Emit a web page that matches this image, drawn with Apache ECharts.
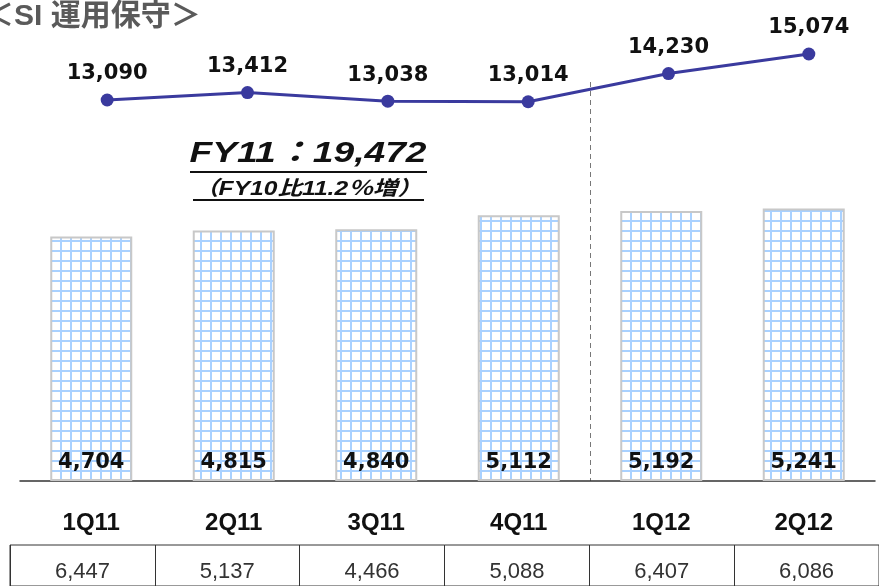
<!DOCTYPE html>
<html><head><meta charset="utf-8">
<script src="https://cdn.jsdelivr.net/npm/echarts@6/dist/echarts.min.js"></script>
<style>html,body{margin:0;padding:0;background:#fff}#c{width:879px;height:586px}</style>
</head><body><div id="c"></div>
<script>
const categories = ['1Q11','2Q11','3Q11','4Q11','1Q12','2Q12'];
const barValues = [4704,4815,4840,5112,5192,5241];
const lineValues = [13090,13412,13038,13014,14230,15074];
const tableValues = [6447,5137,4466,5088,6407,6086];
const titleText = '＜SI 運用保守＞';
const noteMain = 'FY11：19,472';
const noteSub = '（FY10比11.2％増）';

function fmt(v){return Number(v).toLocaleString('en-US');}
function tw(text, font){const c=document.createElement('canvas').getContext('2d');c.font=font;return c.measureText(text).width;}

const pat = document.createElement('canvas'); pat.width=10; pat.height=10;
const g = pat.getContext('2d'); g.fillStyle='#fff'; g.fillRect(0,0,10,10);
g.fillStyle='#a9d1ff'; g.fillRect(0,0,2,10); g.fillRect(0,0,10,2);

const NUM = "'DejaVu Sans', sans-serif";
const LAT = "'Liberation Sans', 'Noto Sans CJK JP', sans-serif";
const chart = echarts.init(document.getElementById('c'), null, {renderer:'canvas'});
const option = {
  animation:false,
  backgroundColor:'#fff',
  grid:[
    {left:20, width:855, top:13, height:468},
    {left:37, width:848, top:13, height:468},
    {left:10, width:876, top:545, height:60, show:true, borderColor:'#333', borderWidth:1}
  ],
  xAxis:[
    {type:'category', gridIndex:0, data:categories, axisLine:{lineStyle:{color:'#333',width:1.5}}, axisTick:{show:false},
     axisLabel:{margin:30, fontFamily:LAT, fontWeight:'bold', fontSize:24, color:'#111'}},
    {type:'category', gridIndex:1, data:categories, show:false},
    {type:'category', gridIndex:2, data:categories, position:'top', axisLine:{show:false}, axisTick:{show:false},
     splitLine:{show:true, lineStyle:{color:'#333',width:1}},
     axisLabel:{inside:true, margin:16, formatter:(v,i)=>fmt(tableValues[i]), fontFamily:LAT, fontSize:22, color:'#333'}}
  ],
  yAxis:[
    {type:'value', gridIndex:0, min:0, max:9000, show:false},
    {type:'value', gridIndex:1, min:-3330, max:16840, show:false},
    {type:'value', gridIndex:2, show:false}
  ],
  series:[
    {type:'bar', xAxisIndex:0, yAxisIndex:0, data:barValues, barWidth:82,
     itemStyle:{color:{image:pat, repeat:'repeat'}, borderColor:'#c8c8c8', borderWidth:2},
     label:{show:true, position:'insideBottom', distance:8, formatter:p=>fmt(p.value), fontFamily:NUM, fontWeight:'bold', fontSize:21, color:'#111'}},
    {type:'line', xAxisIndex:1, yAxisIndex:1, data:lineValues, symbol:'circle', symbolSize:13,
     lineStyle:{color:'#3a3a9e', width:3}, itemStyle:{color:'#3a3a9e'},
     label:{show:true, position:'top', distance:9, formatter:p=>fmt(p.value), fontFamily:NUM, fontWeight:'bold', fontSize:21, color:'#111'}}
  ]
};
chart.setOption(option);

const x4 = chart.convertToPixel({xAxisIndex:0}, categories[3]);
const x5 = chart.convertToPixel({xAxisIndex:0}, categories[4]);
const xd = Math.round((x4+x5)/2)+0.5;
const yBase = chart.convertToPixel({yAxisIndex:0}, 0);

const f1 = "italic bold 29px 'Liberation Sans', 'Noto Sans CJK JP', sans-serif";
const f2 = "italic bold 20px 'Liberation Sans', 'Noto Sans CJK JP', sans-serif";
const s1 = 237 / tw(noteMain, f1);
const s2 = 228 / tw(noteSub, f2);

chart.setOption({graphic:[
  {type:'line', shape:{x1:xd, y1:82, x2:xd, y2:yBase}, style:{stroke:'#777', lineWidth:1, lineDash:[5,4]}},
  {type:'text', x:-16, y:17, style:{text:titleText, font:"bold 30px 'Liberation Sans', 'Noto Sans CJK JP', sans-serif", fill:'#5a5a5a', align:'left', verticalAlign:'middle'}},
  {type:'text', x:308, y:154, scaleX:s1, style:{text:noteMain, font:f1, fill:'#111', align:'center', verticalAlign:'middle'}},
  {type:'line', shape:{x1:190, y1:172, x2:427, y2:172}, style:{stroke:'#111', lineWidth:2}},
  {type:'text', x:308, y:189, scaleX:s2, style:{text:noteSub, font:f2, fill:'#111', align:'center', verticalAlign:'middle'}},
  {type:'line', shape:{x1:193, y1:200, x2:424, y2:200}, style:{stroke:'#111', lineWidth:2}}
]});
</script></body></html>
